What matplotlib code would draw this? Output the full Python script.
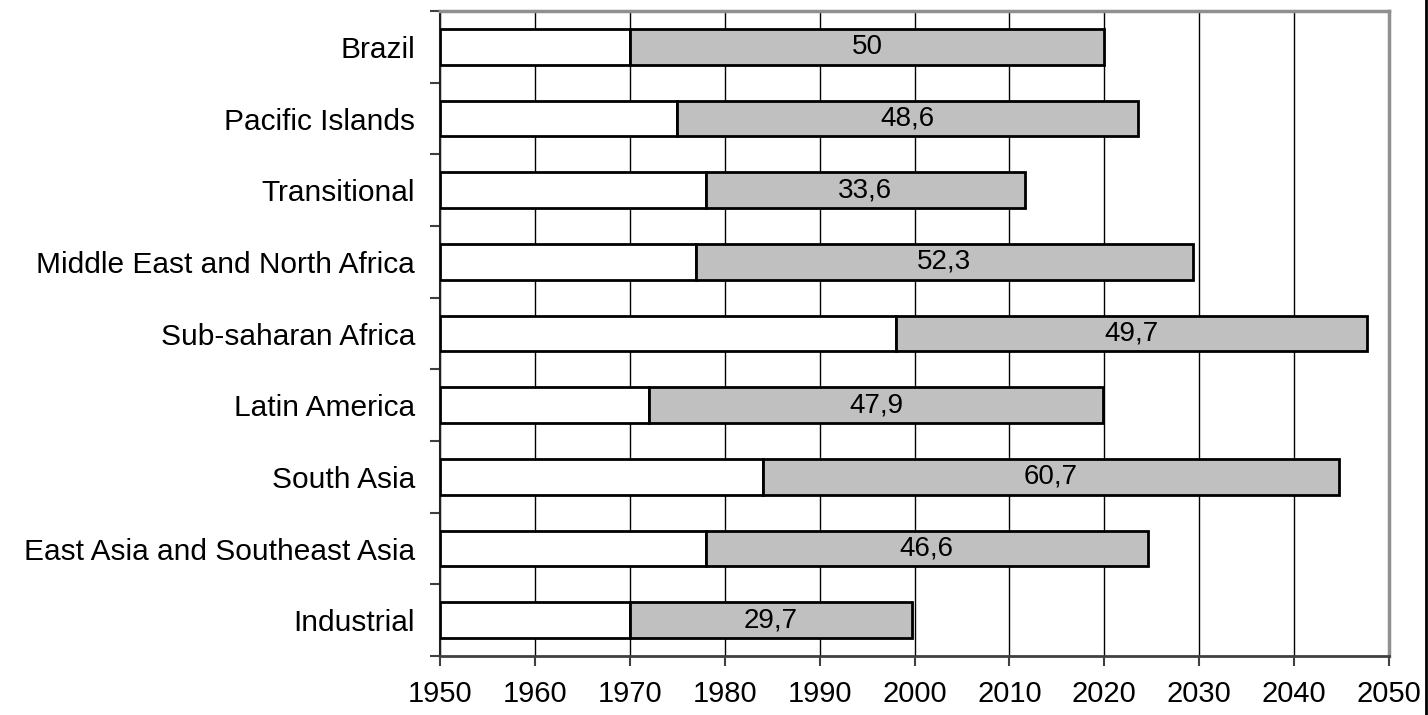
#!/usr/bin/env python3

import numpy as np
import matplotlib.pyplot as plt
from matplotlib.lines import Line2D

plt.rcParams['font.family'] = ['Liberation Sans', 'DejaVu Sans']

regions = ["Brazil", "Pacific Islands", "Transitional", "Middle East and North Africa",
           "Sub-saharan Africa", "Latin America", "South Asia",
           "East Asia and Southeast Asia", "Industrial"]
start_year = [1970, 1975, 1978, 1977, 1998, 1972, 1984, 1978, 1970]
duration = [50, 48.6, 33.6, 52.3, 49.7, 47.9, 60.7, 46.6, 29.7]
duration_labels = ["50", "48,6", "33,6", "52,3", "49,7", "47,9", "60,7", "46,6", "29,7"]
x_ticks = [1950, 1960, 1970, 1980, 1990, 2000, 2010, 2020, 2030, 2040, 2050]

fig = plt.figure(figsize=(14.28, 7.15), dpi=100)
ax = fig.add_axes([440/1428, 59/715, 949/1428, 645/715])

y = np.arange(len(regions))[::-1]
base = 1950
ax.barh(y, np.array(start_year) - base, left=base, height=0.5,
        color='white', edgecolor='black', linewidth=2, zorder=3)
bars = ax.barh(y, duration, left=start_year, height=0.5,
               color='#c0c0c0', edgecolor='black', linewidth=2, zorder=3)
for b, lab in zip(bars, duration_labels):
    ax.text(b.get_x() + b.get_width()/2, b.get_y() + b.get_height()/2, lab,
            ha='center', va='center', fontsize=20, zorder=4)

ax.set_xlim(1950, 2050)
ax.set_ylim(-0.5, len(regions) - 0.5)
ax.set_xticks(x_ticks)
ax.set_xticklabels([str(t) for t in x_ticks], fontsize=21)
ax.set_yticks(y)
ax.set_yticklabels(regions, fontsize=21.5)
ax.set_yticks(np.arange(-0.5, len(regions), 1), minor=True)

ax.tick_params(axis='y', which='major', length=0, pad=18)
ax.tick_params(axis='y', which='minor', length=7, color='#404040', width=1.5)
ax.tick_params(axis='x', which='major', length=7, color='#404040', width=1.5, pad=10)

ax.grid(axis='x', color='black', linewidth=1, zorder=0)
ax.set_axisbelow(True)

ax.spines['left'].set_color('#202020')
ax.spines['left'].set_linewidth(1.5)
ax.spines['bottom'].set_color('#404040')
ax.spines['bottom'].set_linewidth(2)
ax.spines['top'].set_color('#909090')
ax.spines['top'].set_linewidth(2.5)
ax.spines['right'].set_color('#909090')
ax.spines['right'].set_linewidth(2.5)

# frame line at right edge of the picture
fig.add_artist(Line2D([1426/1428, 1426/1428], [0, 1], color='black', linewidth=2))

fig.savefig("out.png", dpi=100)
